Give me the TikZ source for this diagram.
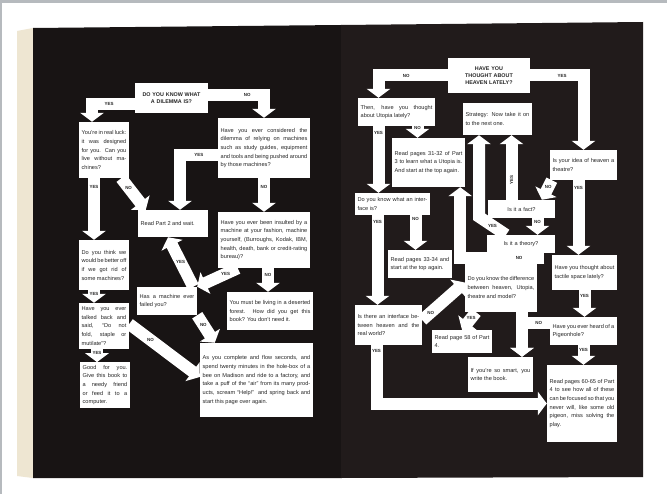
\documentclass[tikz,border=0pt]{standalone}
\usepackage{fontspec}
\setmainfont{Liberation Sans}
\usetikzlibrary{arrows.meta}
\pgfdeclarelayer{back}
\pgfdeclarelayer{background}
\pgfsetlayers{back,background,main}
\definecolor{framec}{RGB}{182,186,190}
\definecolor{edgec}{RGB}{238,230,210}
\definecolor{pageL}{RGB}{24,20,20}
\definecolor{pageR}{RGB}{33,27,27}

\begin{document}
\begin{tikzpicture}[x=0.3mm,y=-0.3mm,
  qbox/.style={fill=white,text=black!85,inner sep=0.8mm,align=justify,font=\fontsize{4.8}{7.4}\selectfont},
  capbox/.style={qbox,align=center,font=\fontsize{4.6}{6.2}\selectfont\bfseries},
  band/.style={draw=white,line width=3.6mm,line join=miter,-{Triangle[width=7mm,length=2.7mm]}},
  yn/.style={text=black!85,inner sep=0pt,font=\fontsize{3.8}{4}\selectfont\bfseries}]
  \useasboundingbox (0,0) rectangle (667,494);
  \begin{pgfonlayer}{back}
    \fill[framec] (0,0) rectangle (667,494);
    \fill[white] (2,3) rectangle (667,494);
    \fill[edgec] (17,31) -- (33,28) -- (33,478) -- (17,476) -- cycle;
    \fill[pageL] (33,28) -- (341,25) -- (341,478) -- (33,478) -- cycle;
    \fill[pageR] (341,25) -- (643,22) -- (643,477) -- (341,478) -- cycle;
  \end{pgfonlayer}

  % left page
  \draw(171.5,98) node[capbox,minimum width=21.9mm,minimum height=9mm,text width=20.3mm] (A) {DO YOU KNOW WHAT\\ A DILEMMA IS?};
  \draw(104,150) node[qbox,minimum width=15mm,minimum height=16.8mm,text width=13.4mm] (B) {You're in real luck: it was designed for you. Can you live without machines?};
  \draw(264,148) node[qbox,minimum width=27.6mm,minimum height=18mm,text width=26mm] (C) {Have you ever considered the dilemma of relying on machines such as study guides, equipment and tools and being pushed around by those machines?};
  \draw(173,223.5) node[qbox,minimum width=21mm,minimum height=8.1mm,text width=19.4mm] (D) {Read Part 2 and wait.};
  \draw(264,240) node[qbox,minimum width=27.6mm,minimum height=16.8mm,text width=26mm] (E) {Have you ever been insulted by a machine at your fashion, machine yourself, (Burroughs, Kodak, IBM, health, death, bank or credit-rating bureau)?};
  \draw(104,265) node[qbox,minimum width=15mm,minimum height=15mm,text width=13.4mm] (F) {Do you think we would be better off if we got rid of some machines?};
  \draw(167,301) node[qbox,minimum width=18mm,minimum height=8.4mm,text width=16.4mm] (G) {Has a machine ever failed you?};
  \draw(270,311) node[qbox,minimum width=25.8mm,minimum height=11.4mm,text width=24.2mm] (I) {You must be living in a deserted forest. How did you get this book? You don't need it.};
  \draw(104,326) node[qbox,minimum width=15mm,minimum height=13.8mm,text width=13.4mm] (J) {Have you ever talked back and said, ``Do not fold, staple or mutilate''?};
  \draw(105,385) node[qbox,minimum width=15mm,minimum height=13.2mm,text width=13.4mm] (K) {Good for you. Give this book to a needy friend or feed it to a computer.};
  \draw(256.5,380) node[qbox,minimum width=33.9mm,minimum height=22.2mm,text width=32.3mm] (H) {As you complete and flow seconds, and spend twenty minutes in the hole-box of a bee on Madison and ride to a factory, and take a puff of the ``air'' from its many products, scream ``Help!'' and spring back and start this page over again.};

  % right page
  \draw(489,75.5) node[capbox,minimum width=24.6mm,minimum height=10.5mm,text width=23mm] (R0) {HAVE YOU\\ THOUGHT ABOUT\\ HEAVEN LATELY?};
  \draw(396.5,112) node[qbox,minimum width=23.1mm,minimum height=8.4mm,text width=21.5mm] (R1) {Then, have you thought about Utopia lately?};
  \draw(497.5,119) node[qbox,minimum width=20.7mm,minimum height=9.6mm,text width=19.1mm] (R2) {Strategy: Now take it on to the next one.};
  \draw(428.5,162.5) node[qbox,minimum width=21.9mm,minimum height=14.7mm,text width=20.3mm] (R3) {Read pages 31-32 of Part 3 to learn what a Utopia is. And start at the top again.};
  \draw(583.5,165) node[qbox,minimum width=20.1mm,minimum height=9mm,text width=18.5mm] (R4) {Is your idea of heaven a theatre?};
  \draw(392.5,204) node[qbox,minimum width=22.5mm,minimum height=6.6mm,text width=20.9mm] (R5) {Do you know what an interface is?};
  \draw(420,264) node[qbox,minimum width=19.2mm,minimum height=8.4mm,text width=17.6mm] (R6) {Read pages 33-34 and start at the top again.};
  \draw(521.5,209) node[qbox,align=center,minimum width=20.1mm,minimum height=5.4mm,text width=18.5mm] (R7) {Is it a fact?};
  \draw(521,244) node[qbox,align=center,minimum width=20.4mm,minimum height=5.4mm,text width=18.8mm] (R8) {Is it a theory?};
  \draw(584.5,272.5) node[qbox,minimum width=19.5mm,minimum height=10.5mm,text width=17.9mm] (R9) {Have you thought about tactile space lately?};
  \draw(388.5,325) node[qbox,minimum width=20.1mm,minimum height=12mm,text width=18.5mm] (R10) {Is there an interface between heaven and the real world?};
  \draw(501,287.5) node[qbox,minimum width=21.6mm,minimum height=14.7mm,text width=20mm] (R11) {Do you know the difference between heaven, Utopia, theatre and model?};
  \draw(462,341.5) node[qbox,minimum width=18mm,minimum height=6.9mm,text width=16.4mm] (R12) {Read page 58 of Part 4.};
  \draw(500.5,374.5) node[qbox,minimum width=19.5mm,minimum height=10.5mm,text width=17.9mm] (R13) {If you're so smart, you write the book.};
  \draw(583.5,331) node[qbox,minimum width=20.1mm,minimum height=8.4mm,text width=18.5mm] (R14) {Have you ever heard of a Pigeonhole?};
  \draw(582,403.5) node[qbox,minimum width=21mm,minimum height=23.1mm,text width=19.4mm] (R15) {Read pages 60-65 of Part 4 to see how all of these can be focused so that you never will, like some old pigeon, miss solving the play.};

  \begin{pgfonlayer}{background}
    \draw[band] ([yshift=-1.8mm]A.west) -| ([xshift=-3.6mm]B.north) node[yn,pos=.3]{YES};
    \draw[band] ([yshift=.9mm]A.east) -| (C.north) node[yn,pos=.35]{NO};
    \draw[band] ([xshift=-3mm]B.south) -- ([xshift=-3mm]F.north) node[yn,pos=.15]{YES};
    \draw[band] ([xshift=-2.4mm]B.south east) -- ([xshift=2.4mm]D.north west) node[yn,pos=.3]{NO};
    \draw[band] ([yshift=-2.1mm]C.west) -| ([xshift=2.1mm]D.north) node[yn,pos=.25]{YES};
    \draw[band] (C.south) -- (E.north) node[yn,pos=.25]{NO};
    \draw[band] ([xshift=6mm]E.south west) -- (G.north east) node[yn,pos=.3]{YES};
    \draw[band] ([xshift=1.2mm]E.south) -- ([xshift=1.2mm]E.south |- I.north) node[yn,pos=.3]{NO};
    \draw[band] ([xshift=-1.2mm]G.north east) -- ([xshift=-1.5mm]D.south) node[yn,pos=.5]{YES};
    \draw[band] (G.south east) -- ([xshift=4.5mm]H.north west) node[yn,pos=.35]{NO};
    \draw[band] ([xshift=-3mm]F.south) -- ([xshift=-3mm]F.south |- J.north) node[yn,pos=.3]{YES};
    \draw[band] ([xshift=-2.1mm]J.south) -- ([xshift=-2.1mm]J.south |- K.north) node[yn,pos=.3]{YES};
    \draw[band] ([yshift=.6mm]J.east) -- ([yshift=.9mm]H.west) node[yn,pos=.3]{NO};

    \draw[band] (R0.west) -| ([xshift=-5.4mm]R1.north) node[yn,pos=.3]{NO};
    \draw[band] (R0.east) -| (R4.north) node[yn,pos=.3]{YES};
    \draw[band] ([xshift=-5.4mm]R1.south) -- ([xshift=-5.4mm]R1.south |- R5.north) node[yn,pos=.1]{YES};
    \draw[band] ([xshift=6.3mm]R1.south) -- ([xshift=6.3mm]R1.south |- R3.north) node[yn,pos=.15]{NO};
    \draw[band] ([xshift=-3mm]R7.north) -- ([xshift=-3mm]R7.north |- R2.south) node[yn,pos=.3,rotate=90]{YES};
    \draw[band] ([xshift=-4.5mm]R8.north) -- ++(-27,-18) node[yn,midway]{YES} coordinate (r8bend) -- (r8bend |- R2.south);
    \draw[band] ([xshift=.6mm]R4.south west) -- ([xshift=-4mm]R7.north east) node[yn,pos=.35]{NO};
    \draw[band] ([xshift=-1.5mm]R4.south) -- ([xshift=-1.5mm]R4.south |- R9.north) node[yn,pos=.1]{YES};
    \draw[band] ([xshift=4.8mm]R7.south) -- ([xshift=4.8mm]R7.south |- R8.north) node[yn,pos=.25]{NO};
    \draw[band] ([xshift=7mm,yshift=-1.5mm]R8.south) -| ([xshift=-1.5mm]R3.south east) node[yn,pos=.15]{NO};
    \draw[band] ([xshift=-4.5mm]R5.south) -- ([xshift=-4.5mm]R5.south |- R10.north) node[yn,pos=.08]{YES};
    \draw[band] ([xshift=6.9mm]R5.south) -- ([xshift=6.9mm]R5.south |- R6.north) node[yn,pos=.1]{NO};
    \draw[band] ([yshift=1.5mm]R10.east) -- ([yshift=1.5mm]R11.west) node[yn,pos=.2]{NO};
    \draw[band] ([xshift=-3.6mm]R10.south) |- (R15.west) node[yn,pos=.05]{YES};
    \draw[band] ([xshift=-7.5mm]R11.south) -- (R12.north) node[yn,pos=.35]{YES};
    \draw[band] ([xshift=6.3mm]R11.south) -- ([xshift=6.3mm]R11.south |- R13.north);
    \draw[band] ([yshift=2.4mm]R14.west) -| ([xshift=6.3mm]R11.south |- R13.north) node[yn,pos=.2]{NO};
    \draw[band] (R9.south) -- (R9.south |- R14.north) node[yn,pos=.2]{YES};
    \draw[band] (R14.south) -- (R14.south |- R15.north) node[yn,pos=.25]{YES};
  \end{pgfonlayer}
\end{tikzpicture}
\end{document}
